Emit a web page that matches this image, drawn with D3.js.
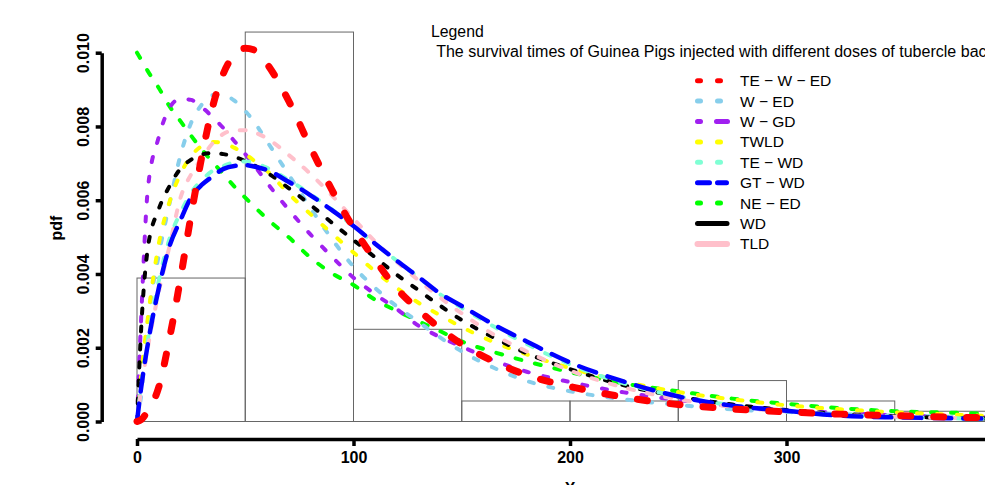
<!DOCTYPE html>
<html><head><meta charset="utf-8">
<script src="https://cdn.jsdelivr.net/npm/d3@7/dist/d3.min.js"></script>
<style>body{margin:0;background:#fff}svg{display:block;font-family:"Liberation Sans",Arial,sans-serif}</style>
</head><body>
<svg id="chart" width="985" height="485"></svg>
<script>
// ---- data (pdf values) ----
const xGrid = [0,2,5,10,15,20,25,30,35,40,45,50,55,60,70,80,90,100,110,120,130,140,150,165,180,200,225,250,275,300,325,350,375,400];
const TE_W_ED = [0,0.00005,0.0003,0.00092,0.00225,0.00385,0.0056,0.0072,0.00855,0.00945,0.00995,0.01012,0.01005,0.0097,0.0087,0.00745,0.00628,0.00525,0.00438,0.0036,0.00303,0.00252,0.0021,0.00162,0.00126,0.00095,0.00066,0.00046,0.00034,0.00026,0.0002,0.00016,0.00012,0.0001];
const W_ED = [0,0.00075,0.0027,0.0045,0.0059,0.0072,0.0081,0.0086,0.00885,0.00885,0.0087,0.00842,0.00805,0.0076,0.0067,0.0058,0.00495,0.0042,0.00362,0.00312,0.0027,0.00228,0.0019,0.00145,0.0011,0.00082,0.0006,0.00045,0.00033,0.00026,0.0002,0.00016,0.00013,0.0001];
const W_GD = [0,0.0029,0.0063,0.0077,0.0085,0.00875,0.00872,0.00852,0.00825,0.00795,0.0076,0.00725,0.00688,0.00648,0.00575,0.00508,0.00447,0.0039,0.00345,0.00305,0.0026,0.00229,0.00203,0.00165,0.00135,0.00107,0.00079,0.00058,0.00042,0.00031,0.00023,0.00017,0.00013,0.0001];
const TWLD = [0,0.0013,0.0028,0.0048,0.00595,0.0067,0.0072,0.00747,0.00758,0.00755,0.00742,0.00725,0.00703,0.0068,0.00618,0.00563,0.0051,0.00458,0.00407,0.00362,0.00322,0.00288,0.00256,0.00215,0.00182,0.00145,0.00108,0.0008,0.0006,0.00044,0.00033,0.00025,0.00019,0.00014];
const TE_WD = [0,0.001,0.0022,0.0038,0.00495,0.00565,0.0062,0.00655,0.0068,0.00693,0.00703,0.00705,0.007,0.00688,0.00655,0.00617,0.00575,0.0053,0.00482,0.00436,0.0039,0.00345,0.00308,0.00257,0.0021,0.00155,0.00103,0.00068,0.00044,0.00028,0.00018,0.00012,0.00009,0.00007];
const GT_WD = [0,0.00095,0.0021,0.0036,0.00475,0.00545,0.00608,0.00642,0.00665,0.00685,0.00693,0.00695,0.0069,0.00682,0.0065,0.00614,0.00573,0.0053,0.00482,0.00436,0.00392,0.00347,0.00313,0.00262,0.00217,0.0016,0.00108,0.00068,0.00043,0.00029,0.00016,0.00011,0.00009,0.00007];
const NE_ED = [0.01,0.0098,0.0095,0.00905,0.00855,0.00815,0.00775,0.00737,0.00703,0.0067,0.00637,0.00607,0.00578,0.0055,0.005,0.00445,0.00402,0.0037,0.0033,0.003,0.00272,0.00245,0.00217,0.00188,0.00163,0.00134,0.00103,0.00082,0.00062,0.00048,0.00036,0.00028,0.00024,0.0002];
const WD = [0,0.0026,0.0047,0.00575,0.00638,0.00685,0.0071,0.00724,0.00728,0.00725,0.00718,0.00706,0.00692,0.00675,0.00633,0.00588,0.00539,0.00492,0.00445,0.00398,0.00356,0.00314,0.00275,0.00227,0.00185,0.00142,0.00098,0.00068,0.00046,0.00031,0.00021,0.00014,0.0001,0.00007];
const TLD = [0,0.0009,0.002,0.0035,0.00475,0.00605,0.0067,0.00715,0.00755,0.0078,0.0079,0.0079,0.00782,0.00768,0.00723,0.00672,0.00613,0.0055,0.00488,0.00433,0.00383,0.00336,0.00293,0.00235,0.0019,0.00138,0.00092,0.0006,0.0004,0.00027,0.00018,0.00013,0.0001,0.00007];

const binEdges = [0,50,100,150,200,250,300,350,400];
const binDensity = [0.00389,0.01056,0.0025,0.000556,0.000556,0.00111,0.000556,0.000278];

const xTicks = [0,100,200,300];
const xMax = 400;
const yTicks = [0,0.002,0.004,0.006,0.008,0.010];
const legendLabels = ["TE \u2212 W \u2212 ED","W \u2212 ED","W \u2212 GD","TWLD","TE \u2212 WD","GT \u2212 WD","NE \u2212 ED","WD","TLD"];
const legendTitle = "Legend";
const chartTitle = " The survival times of Guinea Pigs injected with different doses of tubercle bacilli";
const xLabel = "X", yLabel = "pdf";

// ---- styles ----
const seriesData = {"TE \u2212 W \u2212 ED":TE_W_ED,"W \u2212 ED":W_ED,"W \u2212 GD":W_GD,"TWLD":TWLD,"TE \u2212 WD":TE_WD,"GT \u2212 WD":GT_WD,"NE \u2212 ED":NE_ED,"WD":WD,"TLD":TLD};
const style = {
  "TE \u2212 W \u2212 ED":{c:"#FF0000",w:7,d:"10 23",ld:"3 17"},
  "W \u2212 ED":{c:"#87CEEB",w:4,d:"5 15",ld:"3 17"},
  "W \u2212 GD":{c:"#A020F0",w:4,d:"5 15",ld:"3 16 11 100"},
  "TWLD":{c:"#FFFF00",w:4,d:"5 15",ld:"3 17"},
  "TE \u2212 WD":{c:"#7FFFD4",w:4,d:"6 14",ld:"3 17"},
  "GT \u2212 WD":{c:"#0000FF",w:4.5,d:"18 12",ld:"12 8 9 100"},
  "NE \u2212 ED":{c:"#00FF00",w:4,d:"6 14",ld:"3 17"},
  "WD":{c:"#000000",w:4,d:"5 13",ld:null},
  "TLD":{c:"#FFC0CB",w:4,d:"6 13",ld:null}
};
const drawOrder = ["NE \u2212 ED","W \u2212 GD","W \u2212 ED","TWLD","WD","TE \u2212 WD","TLD","GT \u2212 WD","TE \u2212 W \u2212 ED"];

const svg = d3.select("#chart");
const x = d3.scaleLinear().domain([0,100]).range([137,353.5]);
const y = d3.scaleLinear().domain([0,0.01]).range([421.5,52.7]);

// histogram
svg.append("g").selectAll("rect").data(binDensity).join("rect")
  .attr("x",(d,i)=>x(binEdges[i])).attr("width",(d,i)=>x(binEdges[i+1])-x(binEdges[i]))
  .attr("y",d=>y(d)).attr("height",d=>y(0)-y(d))
  .attr("fill","none").attr("stroke","#666").attr("stroke-width",1);

// curves
const line = d3.line().x(d=>x(d[0])).y(d=>y(d[1])).curve(d3.curveMonotoneX);
svg.append("g").selectAll("path").data(drawOrder).join("path")
  .attr("d",k=>line(xGrid.map((v,i)=>[v,seriesData[k][i]])))
  .attr("fill","none").attr("stroke",k=>style[k].c).attr("stroke-width",k=>style[k].w)
  .attr("stroke-dasharray",k=>style[k].d).attr("stroke-linecap","round");

// axes
const xAxisScale = x.copy().domain([0,xMax]).range([x(0),x(xMax)]);
const gx = svg.append("g").attr("transform","translate(0,439)")
  .call(d3.axisBottom(xAxisScale).tickValues(xTicks).tickSize(7).tickSizeOuter(0).tickFormat(d3.format("d")));
gx.select(".domain").attr("stroke","#000").attr("stroke-width",3.5);
gx.selectAll(".tick line").attr("stroke","#000").attr("stroke-width",3.5);
gx.selectAll(".tick text").attr("y",0).attr("dy",null).attr("transform","translate(0,24)")
  .attr("font-size",16).attr("font-weight","bold").attr("font-family","Liberation Sans, Arial, sans-serif").attr("fill","#000");

const gy = svg.append("g").attr("transform","translate(101.7,0)")
  .call(d3.axisLeft(y).tickValues(yTicks).tickSize(6).tickSizeOuter(0).tickFormat(d3.format(".3f")));
gy.select(".domain").attr("stroke","#000").attr("stroke-width",3.5);
gy.selectAll(".tick line").attr("stroke","#000").attr("stroke-width",3.5);
gy.selectAll(".tick text").attr("x",null).attr("dy",null).attr("y",null)
  .attr("transform","translate(-13,0) rotate(-90)").attr("text-anchor","middle")
  .attr("font-size",16).attr("font-weight","bold").attr("font-family","Liberation Sans, Arial, sans-serif").attr("fill","#000");

svg.append("text").attr("transform","translate(62,228) rotate(-90)").attr("text-anchor","middle")
  .attr("font-size",16).attr("font-weight","bold").text(yLabel);
svg.append("text").attr("x",570).attr("y",494).attr("text-anchor","middle")
  .attr("font-size",16).attr("font-weight","bold").text(xLabel);

// legend
svg.append("text").attr("x",431).attr("y",37).attr("font-size",15.8).text(legendTitle);
svg.append("text").attr("x",432).attr("y",57).attr("font-size",16.05).style("white-space","pre").text(chartTitle);
const lg = svg.append("g").selectAll("g").data(legendLabels).join("g")
  .attr("transform",(d,i)=>`translate(0,${80.7+i*20.4})`);
lg.append("line").attr("x1",697.5).attr("x2",k=>style[k].ld?729:727).attr("y1",0).attr("y2",0)
  .attr("stroke",k=>style[k].c).attr("stroke-width",k=>k==="TLD"?6:5).attr("stroke-linecap","round")
  .attr("stroke-dasharray",k=>style[k].ld);
lg.append("text").attr("x",740).attr("y",5.5).attr("font-size",15.5).text(d=>d);
</script>
</body></html>
